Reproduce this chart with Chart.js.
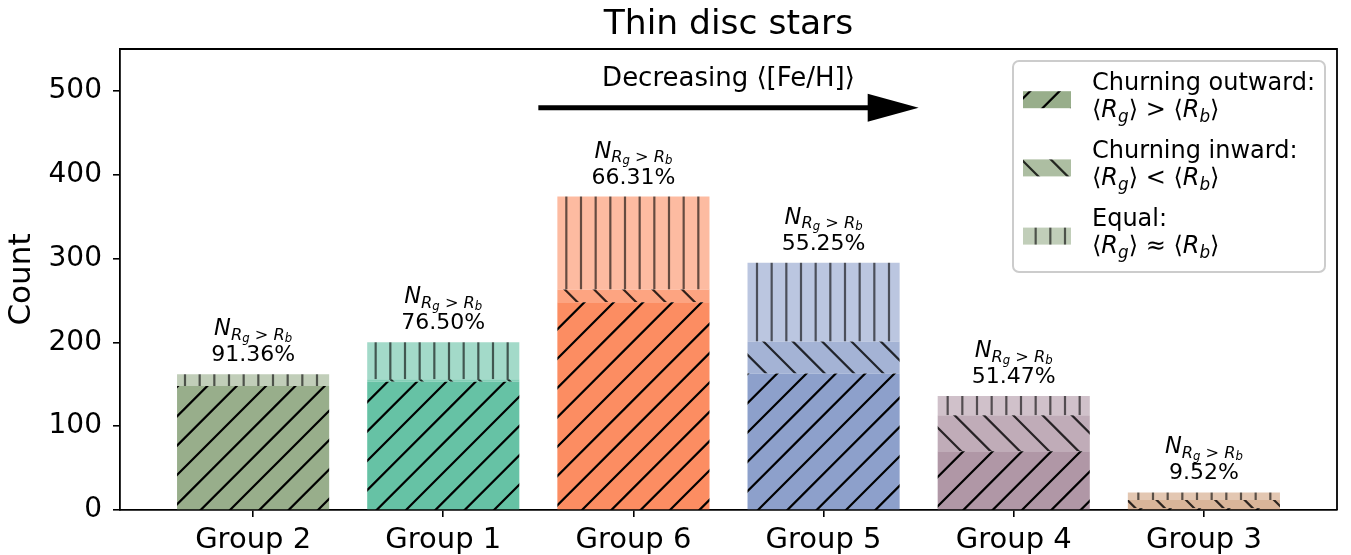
<!DOCTYPE html>
<html>
<head>
<meta charset="utf-8">
<script src="https://cdn.jsdelivr.net/npm/chart.js@4.4.1/dist/chart.umd.min.js"></script>
<style>
  html, body { margin: 0; padding: 0; background: #fff; }
</style>
</head>
<body>
<canvas id="chart" width="1351" height="555"></canvas>
<script>
const groups = ["Group 2", "Group 1", "Group 6", "Group 5", "Group 4", "Group 3"];
const outward = [148, 153, 248, 163, 70, 2];
const inward = [0, 3, 15, 38, 43, 10];
const equal = [14, 44, 111, 94, 23, 9];
const yTicks = [0, 100, 200, 300, 400, 500];
const groupColors = ["#98ae8b", "#66c2a5", "#fc8d62", "#8da0cb", "#b097a6", "#d0a27f"];

const FONT = '"DejaVu Sans", sans-serif';

// hatch tiles: 88px square, vertical lines every 88/6 px, diagonals every 2*88/6 px
const TILE = 88;
const STEP = TILE / 6;
function hatch(color, kind, alpha) {
  const c = document.createElement("canvas");
  c.width = TILE;
  c.height = TILE;
  const g = c.getContext("2d");
  g.fillStyle = "#fff";
  g.fillRect(0, 0, TILE, TILE);
  g.globalAlpha = alpha;
  g.fillStyle = color;
  g.fillRect(0, 0, TILE, TILE);
  g.strokeStyle = "#000";
  g.lineWidth = 2.2;
  g.beginPath();
  if (kind === "|") {
    for (let k = 0; k <= 6; k++) {
      g.moveTo(k * STEP, -2);
      g.lineTo(k * STEP, TILE + 2);
    }
  } else {
    for (let k = -4; k <= 10; k++) {
      const c0 = k * 2 * STEP;
      if (kind === "/") {
        g.moveTo(c0 + 4, -4);
        g.lineTo(c0 - TILE - 4, TILE + 4);
      } else {
        g.moveTo(c0 - TILE - 4, -4);
        g.lineTo(c0 + 4, TILE + 4);
      }
    }
  }
  g.stroke();
  const p = document.getElementById("chart").getContext("2d").createPattern(c, "repeat");
  p.setTransform(new DOMMatrix([1, 0, 0, 1, 9, 555 % TILE]));
  return p;
}

const outwardFill = groupColors.map(c => hatch(c, "/", 1));
const inwardFill = groupColors.map(c => hatch(c, "\\", 0.8));
const equalFill = groupColors.map(c => hatch(c, "|", 0.6));

const toPoints = arr => arr.map((v, i) => ({ x: i, y: v }));

// mixed upright / italic / subscript text
function richFont(p, size) {
  return (p.it ? "italic " : "") + (size * (p.s || 1)) + "px " + FONT;
}
function richWidth(ctx, parts, size) {
  let w = 0;
  for (const p of parts) {
    ctx.font = richFont(p, size);
    w += ctx.measureText(p.t).width;
  }
  return w;
}
function drawRich(ctx, parts, x, y, size, align) {
  let cx = x;
  if (align === "center") cx -= richWidth(ctx, parts, size) / 2;
  ctx.textAlign = "left";
  ctx.textBaseline = "alphabetic";
  for (const p of parts) {
    ctx.font = richFont(p, size);
    ctx.fillText(p.t, cx, y + (p.dy || 0) * size);
    cx += ctx.measureText(p.t).width;
  }
}

const nLabel = [
  { t: "N", it: true },
  { t: "R", it: true, s: 0.72, dy: 0.2 },
  { t: "g", it: true, s: 0.52, dy: 0.3 },
  { t: " > ", s: 0.72, dy: 0.2 },
  { t: "R", it: true, s: 0.72, dy: 0.2 },
  { t: "b", it: true, s: 0.52, dy: 0.3 }
];
function relation(op) {
  return [
    { t: "\u27e8" }, { t: "R", it: true }, { t: "g", it: true, s: 0.7, dy: 0.2 }, { t: "\u27e9" },
    { t: " " + op + " " },
    { t: "\u27e8" }, { t: "R", it: true }, { t: "b", it: true, s: 0.7, dy: 0.2 }, { t: "\u27e9" }
  ];
}
const legendItems = [
  { title: "Churning outward:", math: relation(">"), fill: outwardFill[0] },
  { title: "Churning inward:", math: relation("<"), fill: inwardFill[0] },
  { title: "Equal:", math: relation("\u2248"), fill: equalFill[0] }
];

const decorations = {
  id: "decorations",
  afterDraw(chart) {
    const ctx = chart.ctx;
    const area = chart.chartArea;
    const xs = chart.scales.x;
    const ys = chart.scales.y;
    ctx.save();

    // top and right spines
    ctx.strokeStyle = "#000";
    ctx.lineWidth = 1.8;
    ctx.beginPath();
    ctx.moveTo(area.left, area.top);
    ctx.lineTo(area.right, area.top);
    ctx.lineTo(area.right, area.bottom);
    ctx.stroke();

    // title over the axes
    ctx.fillStyle = "#000";
    ctx.font = "34.5px " + FONT;
    ctx.textAlign = "center";
    ctx.textBaseline = "alphabetic";
    ctx.fillText("Thin disc stars", (area.left + area.right) / 2, 34);

    // share of outward churners above each bar
    groups.forEach((_, i) => {
      const total = outward[i] + inward[i] + equal[i];
      const top = ys.getPixelForValue(total);
      const x = xs.getPixelForValue(i);
      const pct = (outward[i] / total * 100).toFixed(2) + "%";
      drawRich(ctx, nLabel, x, top - 39, 22.5, "center");
      ctx.font = "22px " + FONT;
      ctx.textAlign = "center";
      ctx.fillText(pct, x, top - 13);
    });

    // metallicity arrow
    const ay = ys.getPixelForValue(480);
    const ax0 = xs.getPixelForValue(1.5);
    const ax1 = xs.getPixelForValue(3.5);
    ctx.lineWidth = 5;
    ctx.beginPath();
    ctx.moveTo(ax0, ay);
    ctx.lineTo(ax1 - 48, ay);
    ctx.stroke();
    ctx.beginPath();
    ctx.moveTo(ax1 - 51, ay - 14);
    ctx.lineTo(ax1, ay);
    ctx.lineTo(ax1 - 51, ay + 14);
    ctx.closePath();
    ctx.fill();
    ctx.font = "26px " + FONT;
    ctx.textAlign = "center";
    ctx.fillText("Decreasing \u27e8[Fe/H]\u27e9", xs.getPixelForValue(2.5), ay - 22);

    // legend box
    const bw = 312, bh = 211;
    const bx = area.right - 12 - bw;
    const by = area.top + 12;
    ctx.fillStyle = "rgba(255,255,255,0.85)";
    ctx.strokeStyle = "#cccccc";
    ctx.lineWidth = 2;
    ctx.beginPath();
    ctx.roundRect(bx, by, bw, bh, 6);
    ctx.fill();
    ctx.stroke();
    legendItems.forEach((item, k) => {
      const cy = by + 38.7 + k * 68.2;
      ctx.fillStyle = item.fill;
      ctx.fillRect(bx + 10, cy - 8.5, 48, 17);
      ctx.fillStyle = "#000";
      ctx.font = "24px " + FONT;
      ctx.textAlign = "left";
      ctx.fillText(item.title, bx + 79, cy - 10);
      drawRich(ctx, item.math, bx + 79, cy + 17, 24, "left");
    });

    ctx.restore();
  }
};

new Chart(document.getElementById("chart"), {
  type: "bar",
  data: {
    datasets: [
      { label: "Churning outward", data: toPoints(outward), backgroundColor: outwardFill },
      { label: "Churning inward", data: toPoints(inward), backgroundColor: inwardFill },
      { label: "Equal", data: toPoints(equal), backgroundColor: equalFill }
    ]
  },
  options: {
    responsive: false,
    animation: false,
    devicePixelRatio: 1,
    layout: { padding: { top: 49, right: 14, left: 0, bottom: 0 } },
    datasets: { bar: { barPercentage: 1, categoryPercentage: 0.8, borderWidth: 0 } },
    plugins: { legend: { display: false }, tooltip: { enabled: false } },
    scales: {
      x: {
        type: "linear",
        stacked: true,
        offset: false,
        min: -0.7,
        max: 5.7,
        afterBuildTicks: s => { s.ticks = groups.map((_, i) => ({ value: i })); },
        afterFit: s => { s.height = 45; },
        ticks: {
          autoSkip: false,
          maxRotation: 0,
          padding: 6,
          color: "#000",
          font: { family: FONT, size: 29 },
          callback: v => groups[v]
        },
        grid: { offset: false, drawOnChartArea: false, tickLength: 7, color: "#000", lineWidth: 1.6 },
        border: { display: true, color: "#000", width: 1.8 }
      },
      y: {
        stacked: true,
        min: 0,
        max: 550,
        afterBuildTicks: s => { s.ticks = yTicks.map(v => ({ value: v })); },
        afterFit: s => { s.width = 120; },
        ticks: { padding: 11, color: "#000", font: { family: FONT, size: 28 } },
        grid: { drawOnChartArea: false, tickLength: 7, color: "#000", lineWidth: 1.6 },
        border: { display: true, color: "#000", width: 1.8 },
        title: { display: true, text: "Count", color: "#000", font: { family: FONT, size: 31 }, padding: { top: 3, bottom: 0 } }
      }
    }
  },
  plugins: [decorations]
});
</script>
</body>
</html>
